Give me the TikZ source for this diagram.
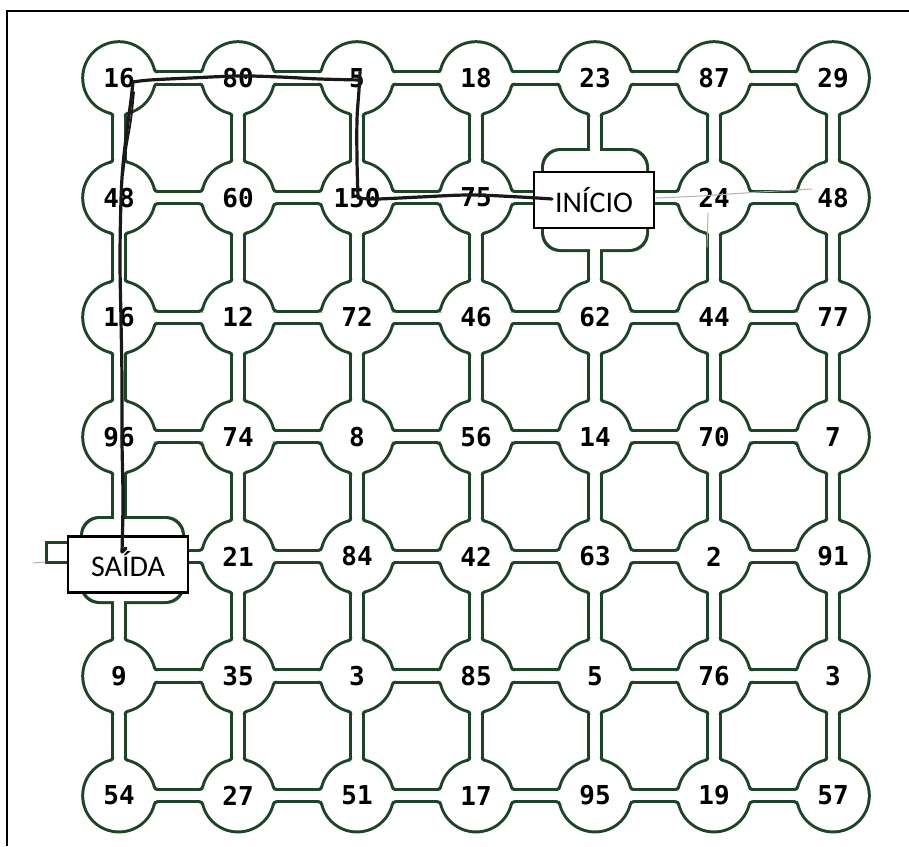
\documentclass[tikz,border=0pt]{standalone}
\usepackage{fontspec}
\newfontfamily\numfont{DejaVu Sans Mono}
\newfontfamily\boxfont{Carlito}
\definecolor{mazeline}{RGB}{30,68,40}
\begin{document}
\begin{tikzpicture}[x=1pt,y=-1pt,
  chdark/.style={draw=mazeline, line width=15.2},
  chwhite/.style={draw=white, line width=9.2},
  num/.style={inner sep=0pt, font=\numfont\bfseries\fontsize{26}{26}\selectfont},
  mbox/.style={draw=black, line width=2.6, fill=white, minimum width=120, minimum height=56, inner sep=0pt, font=\boxfont\fontsize{30}{30}\selectfont},
  pen/.style={draw=black!90, line width=3.2, line cap=round, line join=round},
  pencil/.style={draw=black!30, line width=1, line cap=round},
  fil/.pic={
    \fill[white] (33.773,8.394) arc[start angle=193.96, end angle=270, radius=5] -- (30,4.6) -- cycle;
    \draw[mazeline, line width=3, line cap=round] (35.228,8.756) arc[start angle=193.96, end angle=270, radius=3.5];
  }]
\useasboundingbox (0,0) rectangle (909,846);
\fill[white] (0,0) rectangle (909,846);
\draw[line width=2.5] (7,846) -- (7,11) -- (909,11);
% grid positions
\foreach \r in {1,...,7}{
  \foreach \c in {1,...,7}{
    \coordinate (p-\r-\c) at ({119+119*(\c-1)},{78+119.6*(\r-1)});
  }
}
% ---- dark pass
\foreach \r in {1,...,7}{
  \foreach \c [evaluate=\c as \cn using int(\c+1)] in {1,...,6}{
    \draw[chdark] (p-\r-\c) -- (p-\r-\cn);
  }
}
\foreach \c in {1,...,7}{
  \foreach \r [evaluate=\r as \rn using int(\r+1)] in {1,...,6}{
    \draw[chdark] (p-\r-\c) -- (p-\rn-\c);
  }
}
\foreach \r in {1,...,7}{
  \foreach \c in {1,...,7}{
    \ifnum\r\c=25 \relax\else\ifnum\r\c=51 \relax\else
      \fill[mazeline] (p-\r-\c) circle (37.8);
    \fi\fi
  }
}
\fill[mazeline, rounded corners=19] (541,148) rectangle (649,252);
\fill[mazeline, rounded corners=19] (80,516) rectangle (185,604);
\fill[mazeline] (45,541) rectangle (75,564);
% ---- white pass
\foreach \r in {1,...,7}{
  \foreach \c [evaluate=\c as \cn using int(\c+1)] in {1,...,6}{
    \draw[chwhite] (p-\r-\c) -- (p-\r-\cn);
  }
}
\foreach \c in {1,...,7}{
  \foreach \r [evaluate=\r as \rn using int(\r+1)] in {1,...,6}{
    \draw[chwhite] (p-\r-\c) -- (p-\rn-\c);
  }
}
\fill[white, rounded corners=17] (544,151) rectangle (646,249);
\fill[white, rounded corners=17] (83,519) rectangle (182,601);
\fill[white] (48,544) rectangle (76,561);
\foreach \r in {1,...,7}{
  \foreach \c in {1,...,7}{
    \ifnum\r\c=25 \relax\else\ifnum\r\c=51 \relax\else
      \fill[white] (p-\r-\c) circle (34.8);
    \fi\fi
  }
}
% ---- fillets where channels meet circles
\foreach \r in {1,...,7}{
  \foreach \c in {1,...,7}{
    \ifnum\r\c=25 \relax\else\ifnum\r\c=51 \relax\else
      \ifnum\c<7
        \pic[rotate=0] at (p-\r-\c) {fil}; \pic[rotate=0, yscale=-1] at (p-\r-\c) {fil};
      \fi
      \ifnum\c>1
        \pic[rotate=180] at (p-\r-\c) {fil}; \pic[rotate=180, yscale=-1] at (p-\r-\c) {fil};
      \fi
      \ifnum\r>1
        \pic[rotate=90] at (p-\r-\c) {fil}; \pic[rotate=90, yscale=-1] at (p-\r-\c) {fil};
      \fi
      \ifnum\r<7
        \pic[rotate=270] at (p-\r-\c) {fil}; \pic[rotate=270, yscale=-1] at (p-\r-\c) {fil};
      \fi
    \fi\fi
  }
}
% ---- numbers
\foreach \r/\row in {1/{16,80,5,18,23,87,29},2/{48,60,150,75,0,24,48},3/{16,12,72,46,62,44,77},4/{96,74,8,56,14,70,7},5/{0,21,84,42,63,2,91},6/{9,35,3,85,5,76,3},7/{54,27,51,17,95,19,57}}{
  \foreach \v [count=\c] in \row {
    \ifnum\r\c=25 \relax\else\ifnum\r\c=51 \relax\else
      \node[num] (n-\r-\c) at (p-\r-\c) {\v};
    \fi\fi
  }
}
% ---- boxes
\node[mbox] (inicio) at (594,200) {INÍCIO};
\node[mbox] (saida) at (128,564.5) {SAÍDA};
% ---- faint pencil marks
\draw[pencil] plot[smooth, tension=0.6] coordinates {(656,198) (700,196) (760,192) (812,189)};
\draw[pencil] (708,213) -- (707,247);
\draw[pencil] (33,563) -- (45,562);
% ---- hand-drawn path
\draw[pen] plot[smooth, tension=0.6] coordinates {(552,199) (520,197) (470,195) (420,197) (377,199) (358,198)};
\draw[pen] plot[smooth, tension=0.6] coordinates {(358,197) (357,160) (357,120) (359,90) (360,72)};
\draw[pen] plot[smooth, tension=0.6] coordinates {(361,80) (320,79) (280,77) (240,76) (190,78) (150,80) (133,82)};
\draw[pen] plot[smooth, tension=0.6] coordinates {(133,82) (131,100) (127,130) (123,165) (121,200) (120,260) (121,320) (122,380) (122,440) (123,500) (122,552)};
\draw[pen] (122,552) -- (126,548);
\draw[pen, line width=1.8] plot[smooth, tension=0.6] coordinates {(134,92) (131,120) (126,150) (123,175)};
\end{tikzpicture}
\end{document}
